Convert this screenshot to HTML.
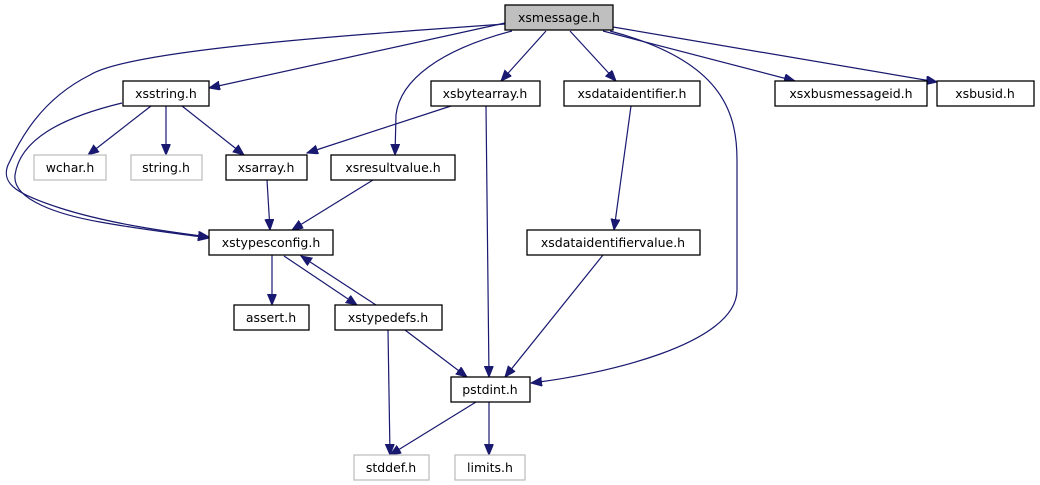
<!DOCTYPE html>
<html><head><meta charset="utf-8"><style>
html,body{margin:0;padding:0;background:#fff;}
svg{display:block;}
text{font-family:"DejaVu Sans","Liberation Sans",sans-serif;font-size:12.5px;fill:#000;text-anchor:middle;}
.n{fill:#fff;stroke:#000;stroke-width:1.3;}
.g{fill:#fff;stroke:#bfbfbf;stroke-width:1.3;}
.e{fill:none;stroke:#191970;stroke-width:1.2;}
</style></head><body>
<svg width="1040" height="485" viewBox="0 0 1040 485" xmlns="http://www.w3.org/2000/svg">
<defs><marker id="a" markerUnits="userSpaceOnUse" markerWidth="12" markerHeight="10" refX="11" refY="4.5" orient="auto"><path d="M0,0 L11,4.5 L0,9 Z" fill="#191970" stroke="#191970"/></marker></defs>
<g marker-end="url(#a)">
<path class="e" d="M505,23 L209,88"/>
<path class="e" d="M505,24 C350,35 130,50 90,75 C40,100 20,140 8,165 C0,185 20,195 60,208 C110,224 170,232 209,237"/>
<path class="e" d="M512,31 C440,50 400,80 396,115 L395,155"/>
<path class="e" d="M546,31 L501,81"/>
<path class="e" d="M570,31 L616,81"/>
<path class="e" d="M610,31 C720,60 737,110 737,160 L737,290 C737,345 600,375 531,383"/>
<path class="e" d="M603,31 L795,81"/>
<path class="e" d="M613,27 L937,82"/>
<path class="e" d="M151,106 L88,155"/>
<path class="e" d="M166,106 L166,155"/>
<path class="e" d="M182,106 L244,155"/>
<path class="e" d="M122,103 C60,118 20,140 15,175 C12,200 60,215 100,222 C150,231 190,235 209,238"/>
<path class="e" d="M451,106 L307,153"/>
<path class="e" d="M486,106 L489,377"/>
<path class="e" d="M267,180 L270,230"/>
<path class="e" d="M373,180 L292,230"/>
<path class="e" d="M631,106 L614,230"/>
<path class="e" d="M603,255 L505,377"/>
<path class="e" d="M272,255 L272,305"/>
<path class="e" d="M284,256 L357,305"/>
<path class="e" d="M376,305 L301,256"/>
<path class="e" d="M388,330 L390,455"/>
<path class="e" d="M405,330 L467,377"/>
<path class="e" d="M476,402 L390,455"/>
<path class="e" d="M489,402 L489,455"/>
</g>
<rect x="505" y="5" width="108" height="25" fill="#bfbfbf" stroke="#000" stroke-width="1.3"/><text x="559" y="22">xsmessage.h</text>
<rect class="n" x="123" y="81" width="86" height="25"/><text x="166" y="98">xsstring.h</text>
<rect class="g" x="34" y="155" width="72" height="25"/><text x="70" y="172">wchar.h</text>
<rect class="g" x="131" y="155" width="71" height="25"/><text x="166" y="172">string.h</text>
<rect class="n" x="226" y="155" width="81" height="25"/><text x="266" y="172">xsarray.h</text>
<rect class="n" x="331" y="155" width="124" height="25"/><text x="393" y="172">xsresultvalue.h</text>
<rect class="n" x="431" y="81" width="109" height="25"/><text x="485" y="98">xsbytearray.h</text>
<rect class="n" x="564" y="81" width="136" height="25"/><text x="632" y="98">xsdataidentifier.h</text>
<rect class="n" x="775" y="81" width="152" height="25"/><text x="851" y="98">xsxbusmessageid.h</text>
<rect class="n" x="937" y="81" width="97" height="25"/><text x="985" y="98">xsbusid.h</text>
<rect class="n" x="209" y="230" width="124" height="25"/><text x="271" y="247">xstypesconfig.h</text>
<rect class="n" x="527" y="230" width="173" height="25"/><text x="613" y="247">xsdataidentifiervalue.h</text>
<rect class="n" x="234" y="305" width="75" height="25"/><text x="271" y="322">assert.h</text>
<rect class="n" x="335" y="305" width="107" height="25"/><text x="388" y="322">xstypedefs.h</text>
<rect class="n" x="451" y="377" width="79" height="25"/><text x="490" y="394">pstdint.h</text>
<rect class="g" x="354" y="455" width="75" height="25"/><text x="391" y="472">stddef.h</text>
<rect class="g" x="455" y="455" width="70" height="25"/><text x="490" y="472">limits.h</text>
</svg>
</body></html>
